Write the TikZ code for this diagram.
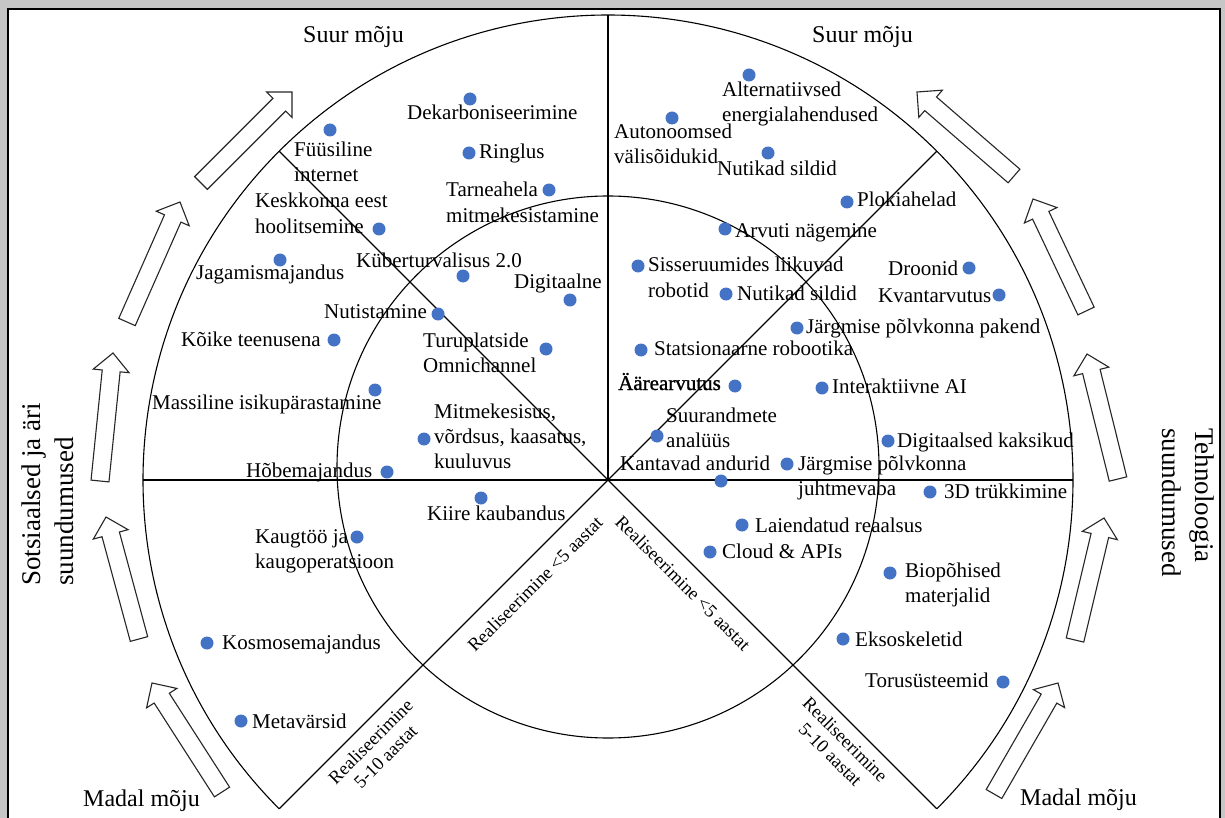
\documentclass[tikz,border=0pt]{standalone}
\usepackage{fontspec}
\setmainfont{Liberation Serif}
\usetikzlibrary{calc}
\definecolor{dotblue}{HTML}{4472C4}
\newcommand\ml[1]{\begin{tabular}[t]{@{}l@{}}#1\end{tabular}}
\newcommand\blockarrow[3]{%
  \coordinate (#1t) at (#2);
  \coordinate (#1p) at (#3);
  \coordinate (#1h) at ($(#1p)!18pt!(#1t)$);
  \draw[barrow] ($(#1t)!9pt!90:(#1p)$) -- ($(#1h)!9pt!90:(#1p)$) -- ($(#1h)!18pt!90:(#1p)$) -- (#1p)
     -- ($(#1h)!18pt!-90:(#1p)$) -- ($(#1h)!9pt!-90:(#1p)$) -- ($(#1t)!9pt!-90:(#1p)$) -- cycle;}
\tikzset{
  lbl/.style={font=\fontsize{21}{25}\selectfont, inner sep=0pt, anchor=base west},
  dotm/.style={circle, fill=dotblue, inner sep=0pt, minimum size=13pt},
  barrow/.style={draw=black!85, fill=white, line width=1.1pt, line join=miter},
  impact/.style={font=\fontsize{24}{28}\selectfont, inner sep=0pt, anchor=base west},
  side/.style={font=\fontsize{27}{33}\selectfont, inner sep=0pt, anchor=base west},
  realis/.style={font=\fontsize{18.5}{21}\selectfont, inner sep=0pt, align=center},
  axis/.style={line width=1.3pt},
  ring/.style={line width=1.1pt}
}
\begin{document}
\begin{tikzpicture}[x=1pt,y=1pt]
\useasboundingbox (0,0) rectangle (1225,-818);
% frame with shadow
\fill[gray!45] (0,0) rectangle (1225,-818);
\fill[white] (8,-9) rectangle (1220,-818);
\draw[line width=1.5pt] (8,-818) -- (8,-9) -- (1220,-9) -- (1220,-818);
% geometry
\coordinate (O) at (608,-480);
\coordinate (C) at (608,-467);
\draw[ring] (C) circle[radius=271];
\draw[ring] ($(O)+(225:465)$) arc[start angle=225, end angle=-45, radius=465];
\draw[line width=1.8pt] (O) -- ($(O)+(90:465)$);
\draw[axis] ($(O)+(180:465)$) -- ($(O)+(0:465)$);
\draw[ring] (O) -- ($(O)+(45:465)$);
\draw[ring] (O) -- ($(O)+(135:465)$);
\draw[ring] (O) -- ($(O)+(225:465)$);
\draw[ring] (O) -- ($(O)+(315:465)$);
% block arrows
\blockarrow{a1}{201,-183}{292,-92}
\blockarrow{a2}{127,-322}{180,-202}
\blockarrow{a3}{100,-481}{113,-353}
\blockarrow{a4}{139,-639}{106,-517}
\blockarrow{a5}{222,-792}{152,-683}
\blockarrow{b1}{1014,-176}{917,-92}
\blockarrow{b2}{1086,-311}{1033,-199}
\blockarrow{b3}{1118,-479}{1087,-354}
\blockarrow{b4}{1075,-640}{1104,-518}
\blockarrow{b5}{994,-794}{1058,-683}
% headings
\node[impact] (i1) at (303,-43) {Suur mõju};
\node[impact] (i2) at (812,-43) {Suur mõju};
\node[impact] (i3) at (83,-806) {Madal mõju};
\node[impact] (i4) at (1020,-805) {Madal mõju};
\node[side, rotate=90] (s1) at (40,-586) {\ml{Sotsiaalsed ja äri\\suundumused}};
\node[side, rotate=-90] (s2) at (1195,-428) {\ml{Tehnoloogia\\suundumused}};
\node[realis, rotate=45] (r1) at (535,-584) {Realiseerimine <5 aastat};
\node[realis, rotate=-45] (r2) at (683,-583) {Realiseerimine <5 aastat};
\node[realis, rotate=45] (r3) at (378,-749) {Realiseerimine\\5-10 aastat};
\node[realis, rotate=-45] (r4) at (838,-747) {Realiseerimine\\5-10 aastat};
% left labels
\node[lbl] (t1) at (407,-120) {Dekarboniseerimine};
\node[lbl] (t2) at (294,-157) {\ml{Füüsiline\\internet}};
\node[lbl] (t3) at (479,-159) {Ringlus};
\node[lbl] (t4) at (446,-197) {\ml{Tarneahela\\mitmekesistamine}};
\node[lbl] (t5) at (255,-208) {\ml{Keskkonna eest\\hoolitsemine}};
\node[lbl] (t6) at (196,-279) {Jagamismajandus};
\node[lbl] (t7) at (356,-268) {Küberturvalisus 2.0};
\node[lbl] (t8) at (514,-288) {Digitaalne};
\node[lbl] (t9) at (324,-318) {Nutistamine};
\node[lbl] (t10) at (181,-346) {Kõike teenusena};
\node[lbl] (t11) at (423,-347) {\ml{Turuplatside\\Omnichannel}};
\node[lbl] (t12) at (152,-409) {Massiline isikupärastamine};
\node[lbl] (t13) at (434,-418) {\ml{Mitmekesisus,\\võrdsus, kaasatus,\\kuuluvus}};
\node[lbl] (t14) at (246,-477) {Hõbemajandus};
\node[lbl] (t15) at (427,-520) {Kiire kaubandus};
\node[lbl] (t16) at (255,-543) {\ml{Kaugtöö ja\\kaugoperatsioon}};
\node[lbl] (t17) at (222,-649) {Kosmosemajandus};
\node[lbl] (t18) at (252,-728) {Metavärsid};
% right labels
\node[lbl] (t19) at (722,-97) {\ml{Alternatiivsed\\energialahendused}};
\node[lbl] (t20) at (614,-139) {\ml{Autonoomsed\\välisõidukid}};
\node[lbl] (t21) at (717,-176) {Nutikad sildid};
\node[lbl] (t22) at (857,-207) {Plokiahelad};
\node[lbl] (t23) at (735,-237) {Arvuti nägemine};
\node[lbl] (t24) at (648,-272) {\ml{Sisseruumides liikuvad\\robotid}};
\node[lbl] (t25) at (737,-300) {Nutikad sildid};
\node[lbl] (t26) at (888,-275) {Droonid};
\node[lbl] (t27) at (878,-302) {Kvantarvutus};
\node[lbl] (t28) at (806,-333) {Järgmise põlvkonna pakend};
\node[lbl] (t29) at (654,-355) {Statsionaarne robootika};
\node[lbl] (t30) at (618,-390) {\addfontfeatures{FakeBold=1.2}Äärearvutus};
\node[lbl] (t31) at (832,-393) {Interaktiivne AI};
\node[lbl] (t32) at (666,-422) {\ml{Suurandmete\\analüüs}};
\node[lbl] (t33) at (897,-447) {Digitaalsed kaksikud};
\node[lbl] (t34) at (620,-470) {Kantavad andurid};
\node[lbl] (t35) at (798,-470) {\ml{Järgmise põlvkonna\\juhtmevaba}};
\node[lbl] (t36) at (944,-498) {3D trükkimine};
\node[lbl] (t37) at (755,-532) {Laiendatud reaalsus};
\node[lbl] (t38) at (722,-558) {Cloud \& APIs};
\node[lbl] (t39) at (905,-577) {\ml{Biopõhised\\materjalid}};
\node[lbl] (t40) at (855,-646) {Eksoskeletid};
\node[lbl] (t41) at (865,-687) {Torusüsteemid};
% dots
\node[dotm] (d1) at (470,-99) {};
\node[dotm] (d2) at (330,-130) {};
\node[dotm] (d3) at (469,-153) {};
\node[dotm] (d4) at (549,-190) {};
\node[dotm] (d5) at (379,-229) {};
\node[dotm] (d6) at (280,-260) {};
\node[dotm] (d7) at (463,-276) {};
\node[dotm] (d8) at (570,-300) {};
\node[dotm] (d9) at (438,-314) {};
\node[dotm] (d10) at (334,-340) {};
\node[dotm] (d11) at (546,-349) {};
\node[dotm] (d12) at (375,-390) {};
\node[dotm] (d13) at (424,-439) {};
\node[dotm] (d14) at (387,-472) {};
\node[dotm] (d15) at (481,-498) {};
\node[dotm] (d16) at (357,-537) {};
\node[dotm] (d17) at (207,-643) {};
\node[dotm] (d18) at (241,-721) {};
\node[dotm] (d19) at (749,-75) {};
\node[dotm] (d20) at (672,-118) {};
\node[dotm] (d21) at (768,-153) {};
\node[dotm] (d22) at (847,-202) {};
\node[dotm] (d23) at (725,-229) {};
\node[dotm] (d24) at (638,-266) {};
\node[dotm] (d25) at (726,-294) {};
\node[dotm] (d26) at (969,-268) {};
\node[dotm] (d27) at (999,-295) {};
\node[dotm] (d28) at (797,-328) {};
\node[dotm] (d29) at (641,-350) {};
\node[dotm] (d30) at (735,-386) {};
\node[dotm] (d31) at (822,-388) {};
\node[dotm] (d32) at (657,-436) {};
\node[dotm] (d33) at (888,-441) {};
\node[dotm] (d34) at (721,-481) {};
\node[dotm] (d35) at (787,-464) {};
\node[dotm] (d36) at (930,-492) {};
\node[dotm] (d37) at (742,-525) {};
\node[dotm] (d38) at (710,-552) {};
\node[dotm] (d39) at (890,-573) {};
\node[dotm] (d40) at (843,-639) {};
\node[dotm] (d41) at (1003,-682) {};
\end{tikzpicture}
\end{document}
